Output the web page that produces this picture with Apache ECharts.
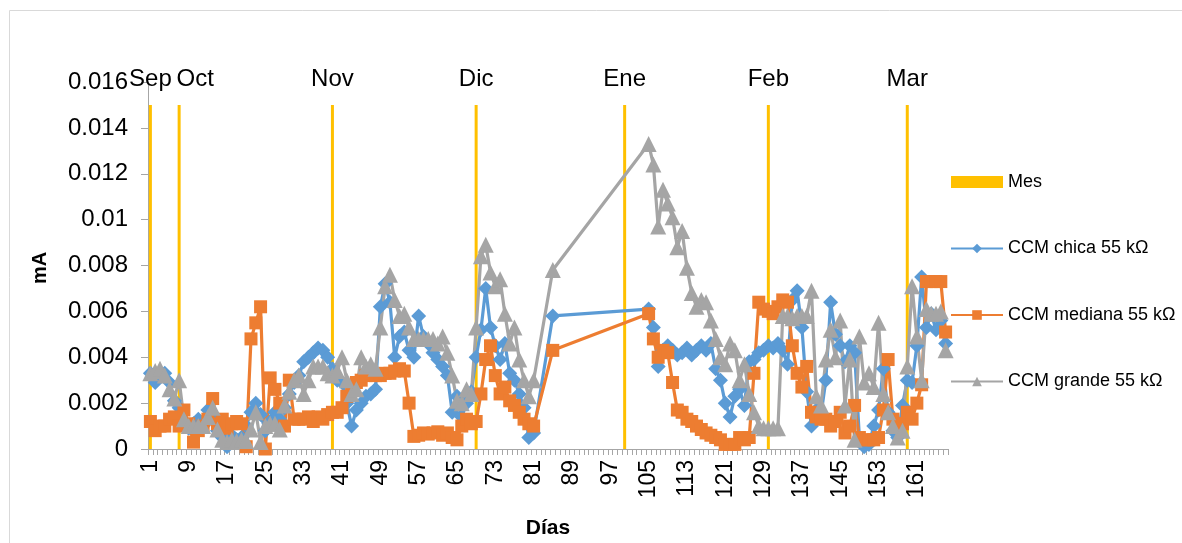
<!DOCTYPE html>
<html><head><meta charset="utf-8">
<script src="https://cdn.jsdelivr.net/npm/echarts@6/dist/echarts.min.js"></script>
<style>html,body{margin:0;padding:0;background:#fff}#c{width:1182px;height:543px}</style>
</head><body><div id="c"></div>
<script>
// Category axis: day numbers 1..167
const dayCount = 167;
const days = Array.from({length: dayCount}, (_, i) => String(i + 1));
const yTicks = [0, 0.002, 0.004, 0.006, 0.008, 0.01, 0.012, 0.014, 0.016];

// Month markers ("Mes" series)
const monthNames = ['Sep', 'Oct', 'Nov', 'Dic', 'Ene', 'Feb', 'Mar'];
const monthDays  = [1, 7, 39, 69, 100, 130, 159];
const monthValue = 0.015;

const n = null;
// CCM chica 55 kΩ
const chica = [
 0.0033,0.0029,0.0032,0.0033,0.0029,0.0021,0.0018,0.0012,0.0009,0.0011,
 0.0013,0.0010,0.0017,0.0014,0.0008,0.0005,0.0001,0.0006,0.0004,0.0005,
 0.0010,0.0016,0.0020,0.0015,0.0008,0.0012,0.0016,0.0013,0.0018,0.0024,
 0.0029,0.0032,0.0038,0.0040,0.0042,0.0044,0.0043,0.0040,0.0035,0.0030,
 0.0029,0.0020,0.0010,0.0017,0.0020,0.0023,0.0024,0.0026,0.0062,0.0072,
 0.0064,0.0040,0.0049,0.0051,0.0043,0.0040,0.0058,0.0049,0.0046,0.0042,
 0.0039,0.0036,0.0032,0.0016,0.0023,0.0014,0.0020,0.0025,0.0040,0.0052,
 0.0070,0.0053,0.0045,0.0039,0.0046,0.0033,0.0030,0.0024,0.0018,0.0005,
 0.0007,n,n,n,0.0058,n,n,n,n,n,
 n,n,n,n,n,n,n,n,n,n,
 n,n,n,n,0.0061,0.0053,0.0036,0.0043,0.0045,0.0043,
 0.0041,0.0042,0.0044,0.0041,0.0043,0.0045,0.0043,0.0046,0.0035,0.0030,
 0.0020,0.0014,0.0023,0.0026,0.0019,0.0038,0.0039,0.0042,0.0043,0.0045,
 0.0044,0.0046,0.0043,0.0037,0.0065,0.0069,0.0053,0.0025,0.0010,0.0017,
 0.0015,0.0030,0.0064,0.0050,0.0045,0.0038,0.0045,0.0042,0.0005,0.0001,
 0.0002,0.0010,0.0017,0.0035,0.0016,0.0008,0.0005,0.0019,0.0030,0.0029,
 0.0045,0.0075,0.0053,0.0059,0.0052,0.0056,0.0046
];
// CCM mediana 55 kΩ
const mediana = [
 0.0012,0.0008,0.0010,0.0010,0.0013,0.0014,0.0010,0.0017,0.0011,0.0003,
 0.0008,0.0010,0.0013,0.0022,0.0011,0.0013,0.0009,0.0011,0.0012,0.0011,
 0.0001,0.0048,0.0055,0.0062,0.0000,0.0031,0.0026,0.0020,0.0010,0.0030,
 0.0013,0.0013,0.0013,0.0014,0.0012,0.0014,0.0013,0.0015,0.0016,0.0016,
 0.0018,0.0023,0.0026,0.0029,0.0030,0.0032,0.0033,0.0032,0.0032,0.0033,
 0.0033,0.0034,0.0035,0.0034,0.0020,0.00055,0.0006,0.0007,0.00065,0.0007,
 0.00075,0.0006,0.0007,0.0005,0.0004,0.0010,0.0013,0.0011,0.0012,0.0024,
 0.0039,0.0045,0.0032,0.0024,0.0027,0.0021,0.0019,0.0016,0.0013,0.0011,
 0.0010,n,n,n,0.0043,n,n,n,n,n,
 n,n,n,n,n,n,n,n,n,n,
 n,n,n,n,0.0059,0.0048,0.0040,0.0043,0.0042,0.0029,
 0.0017,0.0016,0.0013,0.0012,0.0010,0.00085,0.0007,0.0006,0.0005,0.0004,
 0.0002,0.0002,0.0002,0.0005,0.0004,0.0005,0.0033,0.0064,0.0061,0.0060,
 0.0059,0.0062,0.0065,0.0064,0.0045,0.0033,0.0027,0.0036,0.0016,0.0014,
 0.0013,0.0013,0.0010,0.0012,0.0016,0.0007,0.0010,0.0019,0.0005,0.0004,
 0.0004,0.0004,0.0005,0.0017,0.0039,0.0013,0.0011,0.0011,0.0016,0.0013,
 0.0020,0.0028,0.0073,0.0073,0.0073,0.0073,0.0051
];
// CCM grande 55 kΩ
const grande = [
 0.0033,0.0034,0.0035,0.0032,0.0026,0.0022,0.0030,0.0013,0.0010,0.0010,
 0.0010,0.0010,0.0014,0.0018,0.00085,0.0004,0.0003,0.0004,0.00035,0.0004,
 0.00035,0.00085,0.0016,0.0003,0.0010,0.0011,0.0011,0.00085,0.0019,0.0025,
 0.0030,0.0032,0.0024,0.0030,0.0036,0.0036,0.0036,0.0033,0.0032,0.0034,
 0.0040,0.0030,0.0024,0.0026,0.0040,0.0036,0.0037,0.0035,0.0053,0.0071,
 0.0076,0.0065,0.0058,0.0059,0.0053,0.0048,0.0048,0.0048,0.0048,0.0048,
 0.0046,0.0049,0.0042,0.0032,0.0021,0.0020,0.0026,0.0024,0.0053,0.0084,
 0.0089,0.0077,0.0071,0.0074,0.0059,0.0046,0.0053,0.0039,0.0030,0.0023,
 0.0030,n,n,n,0.0078,n,n,n,n,n,
 n,n,n,n,n,n,n,n,n,n,
 n,n,n,n,0.0133,0.0124,0.0097,0.0113,0.0107,0.0101,
 0.0088,0.0095,0.0079,0.0068,0.0062,0.0065,0.0064,0.0056,0.0048,0.0040,
 0.0037,0.0046,0.0043,0.0030,0.0037,0.0024,0.0016,0.0010,0.0009,0.0009,
 0.0009,0.0009,0.0058,0.0058,0.0057,0.0058,0.0058,0.0058,0.0069,0.0023,
 0.0019,0.0039,0.0052,0.0040,0.0056,0.0019,0.0039,0.0004,0.0049,0.0029,
 0.0033,0.0027,0.0055,0.0024,0.0016,0.0010,0.0005,0.0008,0.0036,0.0071,
 0.0049,0.0030,0.0061,0.0059,0.0059,0.0060,0.0043
];

const seriesNames = ['Mes', 'CCM chica 55 kΩ', 'CCM mediana 55 kΩ', 'CCM grande 55 kΩ'];
const colors = ['#FFC000', '#5B9BD5', '#ED7D31', '#A5A5A5'];

const mesData = days.map((d, i) => {
  const k = monthDays.indexOf(i + 1);
  if (k < 0) return null;
  return { value: monthValue, name: monthNames[k],
           label: { offset: k === 1 ? [16, 0] : [0, 0] } };
});

const FONT = 'Liberation Sans';
const chart = echarts.init(document.getElementById('c'), null, {renderer: 'canvas'});
function lineSeries(name, data, symbol, size, color) {
  return {
    name, type: 'line', data, connectNulls: true,
    symbol, symbolSize: size, showSymbol: true, showAllSymbol: true,
    lineStyle: { width: 3.2, color }, itemStyle: { color },
    emphasis: { disabled: true }
  };
}
chart.setOption({
  animation: false,
  textStyle: { fontFamily: FONT },
  grid: { left: 148, right: 234, top: 82, bottom: 94, containLabel: false },
  xAxis: {
    type: 'category', data: days, boundaryGap: true,
    axisLine: { lineStyle: { color: '#A6A6A6', width: 1 } },
    axisTick: { show: true, interval: 0, length: 6, lineStyle: { color: '#A6A6A6' } },
    axisLabel: { interval: 7, rotate: 90, fontSize: 23, color: '#000', margin: 11, fontFamily: FONT },
    splitLine: { show: false }
  },
  yAxis: {
    type: 'value', min: yTicks[0], max: yTicks[yTicks.length - 1], interval: yTicks[1] - yTicks[0],
    axisLine: { show: true, lineStyle: { color: '#A6A6A6', width: 1 } },
    axisTick: { show: true, length: 7, lineStyle: { color: '#A6A6A6' } },
    axisLabel: { fontSize: 24, color: '#000', margin: 20, fontFamily: FONT },
    splitLine: { show: false }
  },
  legend: {
    orient: 'vertical', left: 950, top: 173, padding: 0,
    itemWidth: 52, itemHeight: 12, itemGap: 48.5,
    textStyle: { fontSize: 18, color: '#000', fontFamily: FONT },
    data: [{ name: seriesNames[0], icon: 'rect' }, seriesNames[1], seriesNames[2], seriesNames[3]]
  },
  series: [
    { name: seriesNames[0], type: 'bar', data: mesData, barWidth: 3,
      itemStyle: { color: colors[0] },
      label: { show: true, position: 'top', distance: 14, fontSize: 24, color: '#000',
               fontFamily: FONT, formatter: p => p.name ? p.data.name : '' },
      emphasis: { disabled: true } },
    lineSeries(seriesNames[1], chica, 'diamond', 15, colors[1]),
    lineSeries(seriesNames[2], mediana, 'rect', 13, colors[2]),
    lineSeries(seriesNames[3], grande, 'triangle', 16, colors[3])
  ],
  graphic: [
    { type: 'rect', shape: { x: 9.5, y: 10.5, width: 1400, height: 800 },
      style: { fill: 'none', stroke: '#D9D9D9', lineWidth: 1 }, silent: true },
    { type: 'text', x: 40, y: 268, rotation: Math.PI / 2,
      style: { text: 'mA', fontSize: 20, fontWeight: 'bold', fill: '#000', fontFamily: FONT,
               textAlign: 'center', textVerticalAlign: 'middle' } },
    { type: 'text', x: 548, y: 528,
      style: { text: 'Días', fontSize: 21, fontWeight: 'bold', fill: '#000', fontFamily: FONT,
               textAlign: 'center', textVerticalAlign: 'middle' } }
  ]
});
</script>
</body></html>
